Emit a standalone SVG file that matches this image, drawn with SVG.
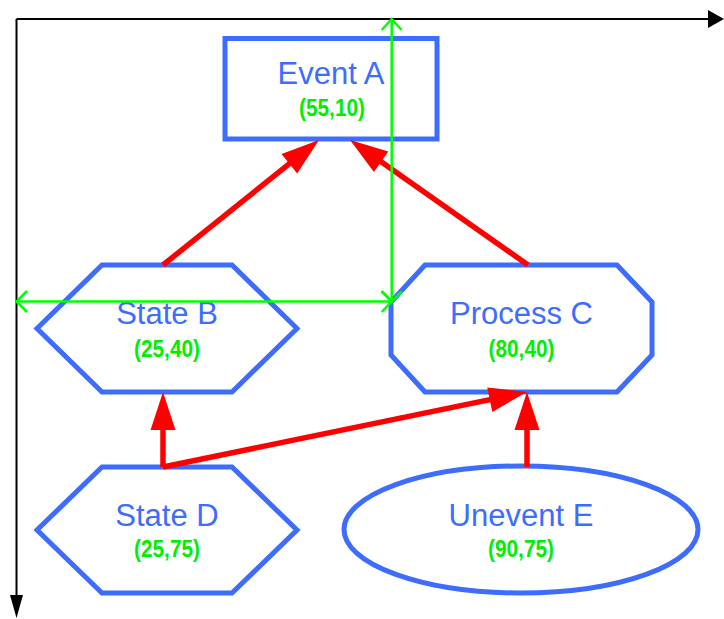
<svg xmlns="http://www.w3.org/2000/svg" width="724" height="619" viewBox="0 0 724 619">
  <style>
    .node { fill: #ffffff; stroke: #3d6cff; stroke-width: 5; stroke-linejoin: miter; }
    .label { font-family: "Liberation Sans", Arial, sans-serif; font-size: 31px; fill: #3d6cff; text-anchor: middle; }
    .coord { font-family: "Liberation Sans", Arial, sans-serif; font-size: 23px; font-weight: bold; fill: #00ee00; text-anchor: middle; }
    .axis { stroke: #000000; stroke-width: 2; fill: none; }
    .guide { stroke: #00ff00; stroke-width: 2.5; fill: none; }
    .edge { stroke: #ff0000; stroke-width: 5.5; fill: none; marker-end: url(#redArrow); }
  </style>
  <defs>
    <marker id="redArrow" markerUnits="userSpaceOnUse" viewBox="0 -13 40 26" markerWidth="40" markerHeight="26" refX="23" refY="0" orient="auto" overflow="visible">
      <path d="M0,-12.5 L38,0 L0,12.5 Z" fill="#ff0000"/>
    </marker>
  </defs>
  <rect width="724" height="619" fill="#ffffff"/>

  <g id="axes">
    <line class="axis" x1="16.5" y1="19" x2="709" y2="19"/>
    <polygon points="708,10 724,19 708,28" fill="#000000"/>
    <line class="axis" x1="16.5" y1="19" x2="16.5" y2="596"/>
    <polygon points="10,595 23,595 16.5,618" fill="#000000"/>
  </g>

  <g id="nodeA">
    <rect class="node" x="225" y="38.5" width="212" height="100.5"/>
    <text class="label" x="331" y="84">Event A</text>
    <text class="coord" x="332" y="116" textLength="66" lengthAdjust="spacingAndGlyphs">(55,10)</text>
  </g>

  <g id="nodeB">
    <polygon class="node" points="102,265 232,265 297,328.5 232,392 102,392 37,328.5"/>
    <text class="label" x="167" y="324">State B</text>
    <text class="coord" x="167" y="357" textLength="66" lengthAdjust="spacingAndGlyphs">(25,40)</text>
  </g>

  <g id="nodeC">
    <polygon class="node" points="425,265 617,265 652,302 652,355 617,392 425,392 391,355 391,302"/>
    <text class="label" x="521.5" y="324">Process C</text>
    <text class="coord" x="521.5" y="357" textLength="66" lengthAdjust="spacingAndGlyphs">(80,40)</text>
  </g>

  <g id="nodeD">
    <polygon class="node" points="102,467 232,467 297,530 232,593 102,593 37,530"/>
    <text class="label" x="167" y="526">State D</text>
    <text class="coord" x="167" y="557" textLength="66" lengthAdjust="spacingAndGlyphs">(25,75)</text>
  </g>

  <g id="nodeE">
    <ellipse class="node" cx="521" cy="529.5" rx="177" ry="63.5"/>
    <text class="label" x="521" y="526">Unevent E</text>
    <text class="coord" x="521" y="557" textLength="66" lengthAdjust="spacingAndGlyphs">(90,75)</text>
  </g>

  <g id="connectors">
    <line class="edge" x1="163" y1="265" x2="307.3" y2="149.4"/>
    <line class="edge" x1="528" y1="265" x2="362.3" y2="148.6"/>
    <line class="edge" x1="163" y1="467" x2="163" y2="407"/>
    <polyline class="edge" points="163,467 512.3,395"/>
    <line class="edge" x1="527" y1="467" x2="527" y2="407"/>
  </g>

  <g id="guides">
    <line class="guide" x1="391.7" y1="19" x2="391.7" y2="301.5"/>
    <polyline class="guide" points="381.7,30 391.7,19 401.7,30"/>
    <polyline class="guide" points="381.7,291.5 391.7,301.5 401.7,291.5"/>
    <line class="guide" x1="16.5" y1="301.5" x2="391.7" y2="301.5"/>
    <polyline class="guide" points="27,291 16.5,301.5 27,312"/>
    <polyline class="guide" points="381.7,291 391.7,301.5 381.7,312"/>
  </g>
</svg>
